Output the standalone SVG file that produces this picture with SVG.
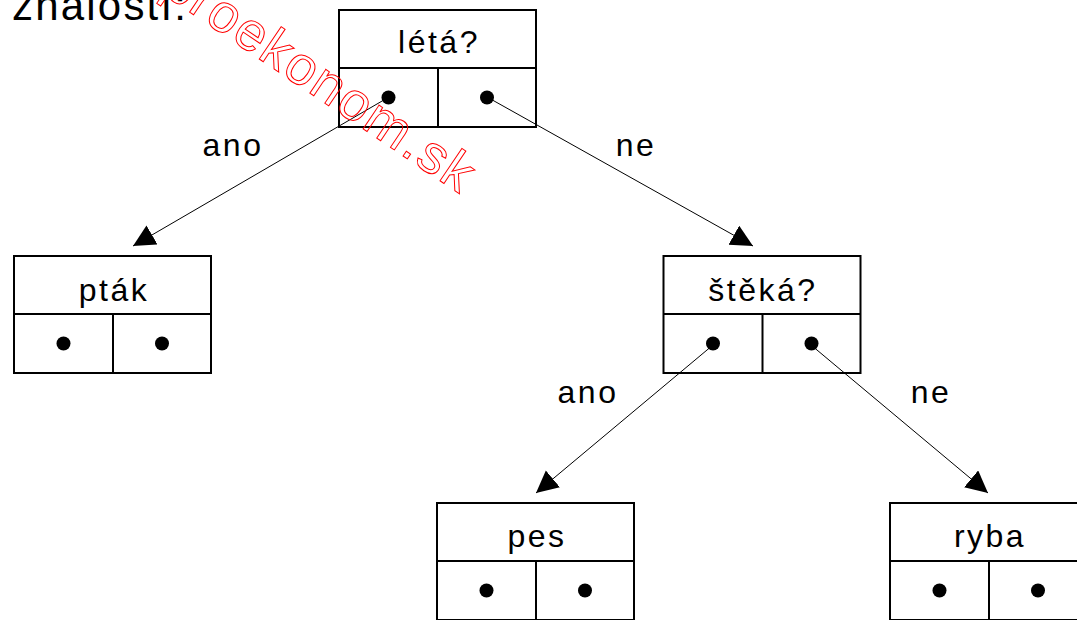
<svg xmlns="http://www.w3.org/2000/svg" width="1077" height="620" viewBox="0 0 1077 620">
  <style>
    .box { fill: #ffffff; stroke: #000000; stroke-width: 2; }
    .sep { stroke: #000000; stroke-width: 2; }
    .dot { fill: #000000; }
    .lbl { font-family: "Liberation Sans", Arial, sans-serif; font-size: 32px; letter-spacing: 2.5px; fill: #000000; text-anchor: middle; }
    .edge { stroke: #000000; stroke-width: 1; fill: none; marker-end: url(#arrow); }
    .wm { font-family: "Liberation Sans", Arial, sans-serif; font-size: 54px; letter-spacing: 2px; fill: none; stroke: #ff0000; stroke-width: 1; }
  </style>
  <defs>
    <marker id="arrow" markerUnits="userSpaceOnUse" markerWidth="23" markerHeight="24" refX="22" refY="11" orient="auto">
      <path d="M0,0 L22,11 L0,22 Z" fill="#000000"/>
    </marker>
    <!-- record cell: title row on top, two pointer slots below -->
    <g id="cell">
      <rect class="box" x="0" y="0" width="197" height="117"/>
      <line class="sep" x1="0" y1="58" x2="197" y2="58"/>
      <line class="sep" x1="99" y1="58" x2="99" y2="117"/>
      <circle class="dot" cx="49.5" cy="87.5" r="7"/>
      <circle class="dot" cx="148" cy="87.5" r="7"/>
    </g>
  </defs>

  <rect width="1077" height="620" fill="#ffffff"/>

  <text x="12" y="20" font-family="Liberation Sans, Arial, sans-serif" font-size="42" letter-spacing="2.2" fill="#000000">znalostí:</text>

  <g id="node-leta">
    <use href="#cell" x="339" y="10"/>
    <text class="lbl" x="439" y="53">létá?</text>
  </g>
  <g id="node-ptak">
    <use href="#cell" x="14" y="256"/>
    <text class="lbl" x="114" y="301">pták</text>
  </g>
  <g id="node-steka">
    <use href="#cell" x="663.5" y="256"/>
    <text class="lbl" x="763" y="301">štěká?</text>
  </g>
  <g id="node-pes">
    <use href="#cell" x="437" y="503"/>
    <text class="lbl" x="537" y="547">pes</text>
  </g>
  <g id="node-ryba">
    <use href="#cell" x="890" y="503"/>
    <text class="lbl" x="990" y="547">ryba</text>
  </g>

  <g id="edges">
    <line class="edge" x1="389" y1="97" x2="133" y2="246"/>
    <line class="edge" x1="487" y1="97" x2="753" y2="246"/>
    <line class="edge" x1="713" y1="345" x2="536" y2="493"/>
    <line class="edge" x1="811" y1="345" x2="988" y2="493"/>
    <text class="lbl" x="233" y="156">ano</text>
    <text class="lbl" x="636" y="156">ne</text>
    <text class="lbl" x="588" y="403">ano</text>
    <text class="lbl" x="931" y="403">ne</text>
  </g>

  <!-- site mark -->
  <text class="wm" transform="translate(160,-8) rotate(34)">proekonom.sk</text>
</svg>
